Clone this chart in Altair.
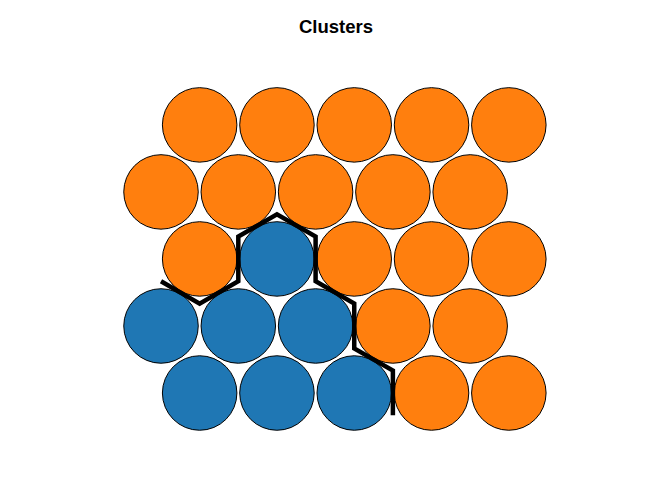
import altair as alt
import pandas as pd
import math

# SOM hex grid: 5 rows x 5 columns, row 1 at bottom
rows = [1]*5 + [2]*5 + [3]*5 + [4]*5 + [5]*5
cols = [1, 2, 3, 4, 5] * 5
cluster = [
    "B", "B", "B", "A", "A",   # row 1 (bottom)
    "B", "B", "B", "A", "A",   # row 2
    "A", "B", "A", "A", "A",   # row 3
    "A", "A", "A", "A", "A",   # row 4
    "A", "A", "A", "A", "A",   # row 5
]

# cluster boundary vertices (data units)
bx = [1.0, 1.5, 2.0, 2.0, 2.5, 3.0, 3.0, 3.5, 3.5, 4.0, 4.0]
by = [2.309, 2.021, 2.309, 2.887, 3.175, 2.887, 2.309, 2.021, 1.443, 1.155, 0.577]

h = math.sqrt(3) / 2
cells = pd.DataFrame({
    "x": [c + (0.5 if r % 2 == 1 else 0.0) for r, c in zip(rows, cols)],
    "y": [r * h for r in rows],
    "cluster": cluster,
})
bound = pd.DataFrame({"x": bx, "y": by, "i": list(range(len(bx)))})

xs = alt.Scale(domain=[-1.083, 7.611], nice=False, zero=False)
ys = alt.Scale(domain=[-0.258, 5.427], nice=False, zero=False)

pts = alt.Chart(cells).mark_point(
    shape="circle", filled=True, opacity=1, stroke="black", strokeWidth=1
).encode(
    x=alt.X("x:Q", scale=xs, axis=None),
    y=alt.Y("y:Q", scale=ys, axis=None),
    fill=alt.Fill("cluster:N", scale=alt.Scale(domain=["A", "B"], range=["#ff7f0e", "#1f77b4"]), legend=None),
    size=alt.value(5550),
)

line = alt.Chart(bound).mark_line(color="black", strokeWidth=4.5, strokeJoin="miter").encode(
    x=alt.X("x:Q", scale=xs, axis=None),
    y=alt.Y("y:Q", scale=ys, axis=None),
    order="i:Q",
)

chart = (pts + line).properties(
    width=672, height=440,
    padding={"left": 0, "right": 0, "top": 40, "bottom": 0},
    autosize=alt.AutoSizeParams(type="none"),
    title=alt.TitleParams("Clusters", font="Liberation Sans", fontSize=18.5, fontWeight="bold",
                          anchor="middle", offset=4, color="black"),
).configure_view(stroke=None)

chart.save("out.html", embed_options={"renderer": "svg", "actions": False})
